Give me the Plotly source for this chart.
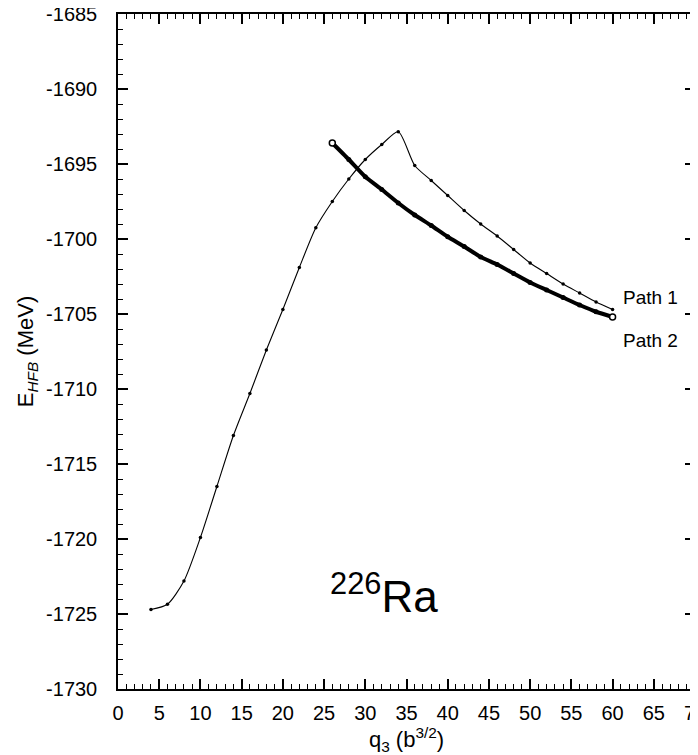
import plotly.graph_objects as go

# ---- data ----
path1_q = [4, 6, 8, 10, 12, 14, 16, 18, 20, 22, 24, 26, 28, 30, 32, 34,
           36, 38, 40, 42, 44, 46, 48, 50, 52, 54, 56, 58, 60]
path1_e = [-1724.7, -1724.35, -1722.8, -1719.9, -1716.5, -1713.1, -1710.3,
           -1707.4, -1704.7, -1701.9, -1699.25, -1697.5, -1696.0, -1694.7,
           -1693.7, -1692.85, -1695.1, -1696.1, -1697.1, -1698.1, -1699.0,
           -1699.8, -1700.7, -1701.6, -1702.3, -1703.0, -1703.6, -1704.2,
           -1704.7]

path2_q = [26, 28, 30, 32, 34, 36, 38, 40, 42, 44, 46, 48, 50, 52, 54, 56,
           58, 60]
path2_e = [-1693.6, -1694.7, -1695.85, -1696.7, -1697.6, -1698.4, -1699.1,
           -1699.85, -1700.5, -1701.2, -1701.7, -1702.3, -1702.9, -1703.4,
           -1703.9, -1704.4, -1704.85, -1705.2]

x_ticks = list(range(0, 71, 5))
x_tick_labels = [str(v) for v in x_ticks]
y_ticks = list(range(-1730, -1684, 5))
y_tick_labels = [str(v) for v in y_ticks]  # ASCII hyphen

labels = ["Path 1", "Path 2"]
label_pos = [(61.0, -1703.9), (61.0, -1706.75)]
nucleus = "<sup>226</sup>Ra"
nucleus_pos = (32.3, -1723.6)

FONT = "Liberation Sans, Arial, Helvetica, sans-serif"

fig = go.Figure()

fig.add_trace(go.Scatter(
    x=path1_q, y=path1_e, mode="lines+markers",
    line=dict(color="black", width=1.1, shape="spline", smoothing=0.7),
    marker=dict(color="black", size=3.5, symbol="circle"),
    showlegend=False, hoverinfo="skip"))

fig.add_trace(go.Scatter(
    x=path2_q, y=path2_e, mode="lines+markers",
    line=dict(color="black", width=4, shape="spline", smoothing=0.5),
    marker=dict(color="black", size=5, symbol="circle"),
    showlegend=False, hoverinfo="skip"))

# open end markers of path 2
fig.add_trace(go.Scatter(
    x=[path2_q[0], path2_q[-1]], y=[path2_e[0], path2_e[-1]], mode="markers",
    marker=dict(color="white", size=6, symbol="circle",
                line=dict(color="black", width=1.5)),
    showlegend=False, hoverinfo="skip"))

for txt, (lx, ly) in zip(labels, label_pos):
    fig.add_annotation(x=lx, y=ly, xref="x", yref="y", text=txt,
                       showarrow=False, xanchor="left", yanchor="middle",
                       font=dict(family=FONT, size=19, color="black"))

fig.add_annotation(x=nucleus_pos[0], y=nucleus_pos[1], xref="x", yref="y",
                   text=nucleus, showarrow=False, xanchor="center",
                   yanchor="middle",
                   font=dict(family=FONT, size=44, color="black"))

axis_common = dict(
    showgrid=False, zeroline=False, showline=True, linecolor="black",
    linewidth=1.5, mirror="ticks", ticks="inside", ticklen=10,
    tickwidth=1.5, tickcolor="black", automargin=False,
    ticklabeloverflow="allow",
    tickfont=dict(family=FONT, size=20, color="black"),
)

fig.update_xaxes(
    range=[0, 70], tickmode="array", tickvals=x_ticks, ticktext=x_tick_labels,
    minor=dict(dtick=1, ticks="inside", ticklen=5, tickwidth=1.2,
               tickcolor="black", showgrid=False),
    ticklabelstandoff=5,
    title=dict(text="q<sub>3</sub> (b<sup>3/2</sup>)",
               font=dict(family=FONT, size=22, color="black"), standoff=6),
    **axis_common)

fig.update_yaxes(
    range=[-1730, -1685], tickmode="array", tickvals=y_ticks,
    ticktext=y_tick_labels,
    minor=dict(dtick=1, ticks="inside", ticklen=5, tickwidth=1.2,
               tickcolor="black", showgrid=False),
    ticklabelstandoff=15,
    title=dict(text="E<sub><i>HFB</i></sub> (MeV)",
               font=dict(family=FONT, size=22, color="black"), standoff=6),
    **axis_common)

# page body adds an 8px offset; compensate so plot area lands at 118..695 / 14..689
fig.update_layout(
    width=690, height=747,
    margin=dict(l=110, r=3, t=6, b=66),
    paper_bgcolor="white", plot_bgcolor="white",
    font=dict(family=FONT, color="black"),
)

fig.write_html("out.html")
